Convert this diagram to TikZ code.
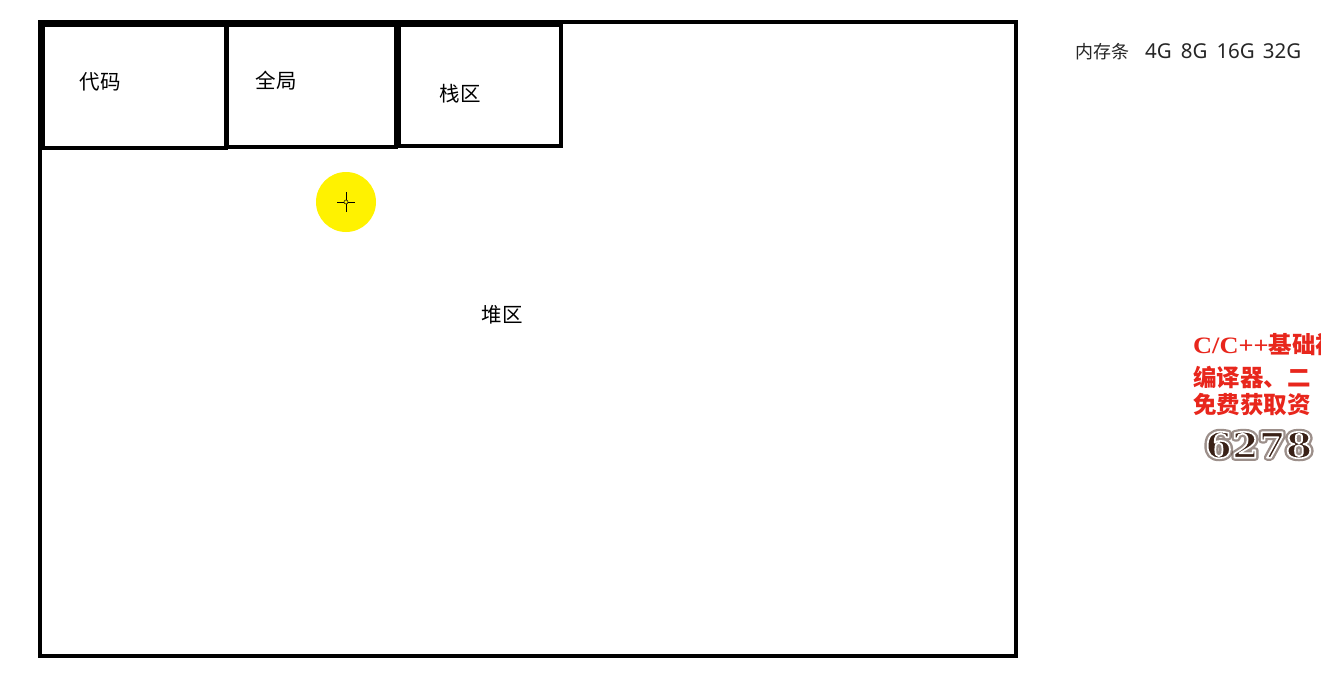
\documentclass[tikz,border=0pt]{standalone}
\usepackage{fontspec}
\setmainfont{Noto Sans CJK SC}
\newfontfamily\cjk{Noto Sans CJK SC}
\newfontfamily\latinsans{Noto Sans}
\newfontfamily\serifbold{Liberation Serif}
\newfontfamily\digitfont{DejaVu Serif}
\definecolor{cursoryellow}{HTML}{FFF200}
\definecolor{adred}{HTML}{E8261C}
\definecolor{digitbrown}{HTML}{3A2218}
\tikzset{
  region/.style={draw=black, line width=4pt, fill=none, inner sep=0pt, outer sep=0pt},
  lbl/.style={font=\cjk\fontsize{20.5}{24}\selectfont, inner sep=0pt},
  adtext/.style={font=\cjk\bfseries\fontsize{23.5}{26}\selectfont, text=adred, anchor=west, inner sep=0pt},
  digitstyle/.style={anchor=west, inner sep=0pt, font=\digitfont\bfseries\fontsize{35}{38}\selectfont},
}
\begin{document}
\begin{tikzpicture}[x=1pt,y=-1pt]
\clip (0,0) rectangle (1321,678);
\fill[white] (0,0) rectangle (1321,678);
% memory regions
\node (mem) [region, minimum width=976pt, minimum height=634pt] at (528,339) {};
\node (codebox) [region, minimum width=183pt, minimum height=123pt] at (134.5,86.5) {};
\node (globalbox) [region, minimum width=169pt, minimum height=122pt] at (311.5,86) {};
\node (stackbox) [region, minimum width=162pt, minimum height=121pt] at (480,85.5) {};
% labels
\node (codetxt) [lbl] at (100,82) {代码};
\node (globaltxt) [lbl] at (276,81) {全局};
\node (stacktxt) [lbl] at (460,94) {栈区};
\node (heaptxt) [lbl] at (502,315) {堆区};
% cursor highlight
\node (cursor) [circle, fill=cursoryellow, minimum size=60pt, inner sep=0pt] at (346,202) {};
\draw[black, line width=0.6pt] (cursor.center) ++(-9,0) -- ++(18,0);
\draw[black, line width=0.6pt] (cursor.center) ++(0,-10) -- ++(0,20);
\draw[black, line width=0.5pt, fill=cursoryellow] (cursor.center) circle (2pt);
% memory sizes
\node (sizes) [anchor=west, inner sep=0pt, text=black!85] at (1075,52)
  {\cjk\fontsize{18}{20}\selectfont 内存条\hspace{16pt}\latinsans\fontsize{20.5}{22}\selectfont 4G\hspace{9pt}8G\hspace{9pt}16G\hspace{8pt}32G};
% advert text
\node (ad1) [adtext] at (1193,345) {{\serifbold\bfseries\scalebox{1.12}[1]{C/C++}}基础视};
\node (ad2) [adtext] at (1193,377) {编译器、二};
\node (ad3) [adtext] at (1193,405) {免费获取资};
% digits: dark halo, then brown with white outline
\node (digitglow) [digitstyle, text=digitbrown, opacity=0.5] at (1205,445)
  {\special{pdf:code 1 Tr 0.23 0.13 0.09 RG 6 w 1 j}\scalebox{1.1}[1]{6278}\special{pdf:code 0 Tr 0 G 1 w}};
\node (digits) [digitstyle, text=digitbrown] at (1205,445)
  {\special{pdf:code 2 Tr 1 1 1 RG 1.6 w 1 j}\scalebox{1.1}[1]{6278}\special{pdf:code 0 Tr 0 G 1 w}};
\end{tikzpicture}
\end{document}
